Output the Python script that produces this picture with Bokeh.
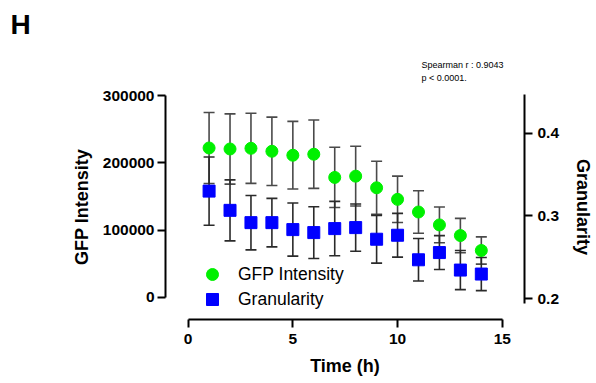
import numpy as np
from bokeh.plotting import figure
from bokeh.models import (Range1d, LinearAxis, FixedTicker, NumeralTickFormatter,
                          Legend, LegendItem, Title, ColumnDataSource)
from bokeh.embed import file_html
from bokeh.resources import INLINE

# ---- data ----
time_h = [1, 2, 3, 4, 5, 6, 7, 8, 9, 10, 11, 12, 13, 14]
gfp_mean = [222000, 220500, 221500, 217100, 211200, 212700, 178200, 180100,
            162800, 145600, 126800, 107600, 91800, 69600]
gfp_sd = [52800, 52200, 52200, 50800, 50300, 50800, 44800, 44400,
          39500, 34500, 31500, 26600, 25600, 20300]
gran_mean = [0.3300, 0.3068, 0.2920, 0.2920, 0.2836, 0.2800, 0.2848, 0.2860,
             0.2720, 0.2768, 0.2472, 0.2559, 0.2348, 0.2300]
gran_sd = [0.0412, 0.0368, 0.0328, 0.0292, 0.0320, 0.0312, 0.0328, 0.0285,
           0.0288, 0.0264, 0.0256, 0.0204, 0.0236, 0.0200]
x_ticks = [0, 5, 10, 15]
left_ticks = [0, 100000, 200000, 300000]
right_ticks = [0.2, 0.3, 0.4]

FONT = "Liberation Sans"

gfp_src = ColumnDataSource(dict(
    t=time_h, m=gfp_mean,
    lo=list(np.array(gfp_mean) - np.array(gfp_sd)),
    hi=list(np.array(gfp_mean) + np.array(gfp_sd))))
gran_src = ColumnDataSource(dict(
    t=time_h, m=gran_mean,
    lo=list(np.array(gran_mean) - np.array(gran_sd)),
    hi=list(np.array(gran_mean) + np.array(gran_sd))))

W, H = 596, 383
FL, FR, FT, FB = 165, 525, 93, 319  # frame edges in canvas coords
p = figure(width=W, height=H, output_backend="svg", toolbar_location=None,
           x_range=Range1d(-1.081, 16.062), y_range=Range1d(-33000, 301500),
           min_border_left=FL, min_border_right=W - FR,
           min_border_top=FT, min_border_bottom=H - FB,
           x_axis_location=None, y_axis_location=None)
p.outline_line_color = None
p.grid.visible = False
p.background_fill_color = "white"
p.border_fill_color = "white"
p.extra_y_ranges = {"gran": Range1d(0.1752, 0.4465)}


def style_axis(ax, ticks, fmt=None):
    ax.ticker = FixedTicker(ticks=ticks)
    if fmt is not None:
        ax.formatter = fmt
    ax.axis_line_width = 2
    ax.axis_line_color = "black"
    ax.major_tick_line_width = 2
    ax.major_tick_line_color = "black"
    ax.major_tick_out = 8
    ax.major_tick_in = 0
    ax.minor_tick_line_color = None
    ax.major_label_text_font = FONT
    ax.major_label_text_font_style = "bold"
    ax.major_label_text_font_size = "15.5px"
    ax.major_label_text_color = "black"
    ax.axis_label_text_font = FONT
    ax.axis_label_text_font_style = "bold"
    ax.axis_label_text_font_size = "18px"
    ax.axis_label_text_color = "black"


xax = LinearAxis(axis_label="Time (h)")
style_axis(xax, x_ticks)
xax.bounds = (0, 15)
xax.major_label_standoff = 6
xax.axis_label_standoff = 9
p.add_layout(xax, "below")

lax = LinearAxis(axis_label="GFP Intensity")
style_axis(lax, left_ticks, NumeralTickFormatter(format="0"))
lax.bounds = (0, 300000)
lax.major_label_standoff = 3
lax.axis_label_standoff = 8
p.add_layout(lax, "left")

rax = LinearAxis(axis_label="Granularity", y_range_name="gran")
style_axis(rax, right_ticks, NumeralTickFormatter(format="0.0"))
rax.bounds = (0.195, 0.4465)
rax.major_label_standoff = 5
rax.axis_label_standoff = 11
p.add_layout(rax, "right")

ERR_G = "#4a4a4a"
ERR_B = "#2a2a2a"

# error bars
p.segment(x0="t", y0="lo", x1="t", y1="hi", source=gfp_src,
          line_color=ERR_G, line_width=1.6)
p.scatter(x="t", y="hi", source=gfp_src, marker="dash", size=11,
          line_color=ERR_G, line_width=1.6)
p.scatter(x="t", y="lo", source=gfp_src, marker="dash", size=11,
          line_color=ERR_G, line_width=1.6)

p.segment(x0="t", y0="lo", x1="t", y1="hi", source=gran_src,
          line_color=ERR_B, line_width=1.6, y_range_name="gran")
p.scatter(x="t", y="hi", source=gran_src, marker="dash", size=11,
          line_color=ERR_B, line_width=1.6, y_range_name="gran")
p.scatter(x="t", y="lo", source=gran_src, marker="dash", size=11,
          line_color=ERR_B, line_width=1.6, y_range_name="gran")

# markers
r_gran = p.scatter(x="t", y="m", source=gran_src, marker="square", size=12,
                   fill_color="#0000FF", line_color="#0000FF",
                   y_range_name="gran")
r_gfp = p.scatter(x="t", y="m", source=gfp_src, marker="circle", size=12,
                  fill_color="#00F000", line_color="#00F000")


def make_legend(label, renderer, y):
    lg = Legend(items=[LegendItem(label=label, renderers=[renderer])],
                location=(32, y), padding=0, margin=0, spacing=0,
                glyph_width=30, glyph_height=30, label_height=30,
                label_standoff=11, border_line_color=None,
                background_fill_alpha=0,
                label_text_font=FONT, label_text_font_size="17.5px",
                label_text_color="black")
    p.add_layout(lg, "center")


make_legend("GFP Intensity", r_gfp, 30)
make_legend("Granularity", r_gran, 5)

# annotation texts above the plot area
p.add_layout(Title(text="Spearman  r : 0.9043\np < 0.0001.", align="left",
                   offset=256, standoff=24, text_font=FONT,
                   text_font_size="9px", text_font_style="normal",
                   text_color="black", text_line_height=1.3), "above")
p.add_layout(Title(text="H", align="left", offset=-155, standoff=12,
                   text_font=FONT, text_font_size="28px",
                   text_font_style="bold", text_color="black"), "above")

open("out.html", "w").write(file_html(p, INLINE))
